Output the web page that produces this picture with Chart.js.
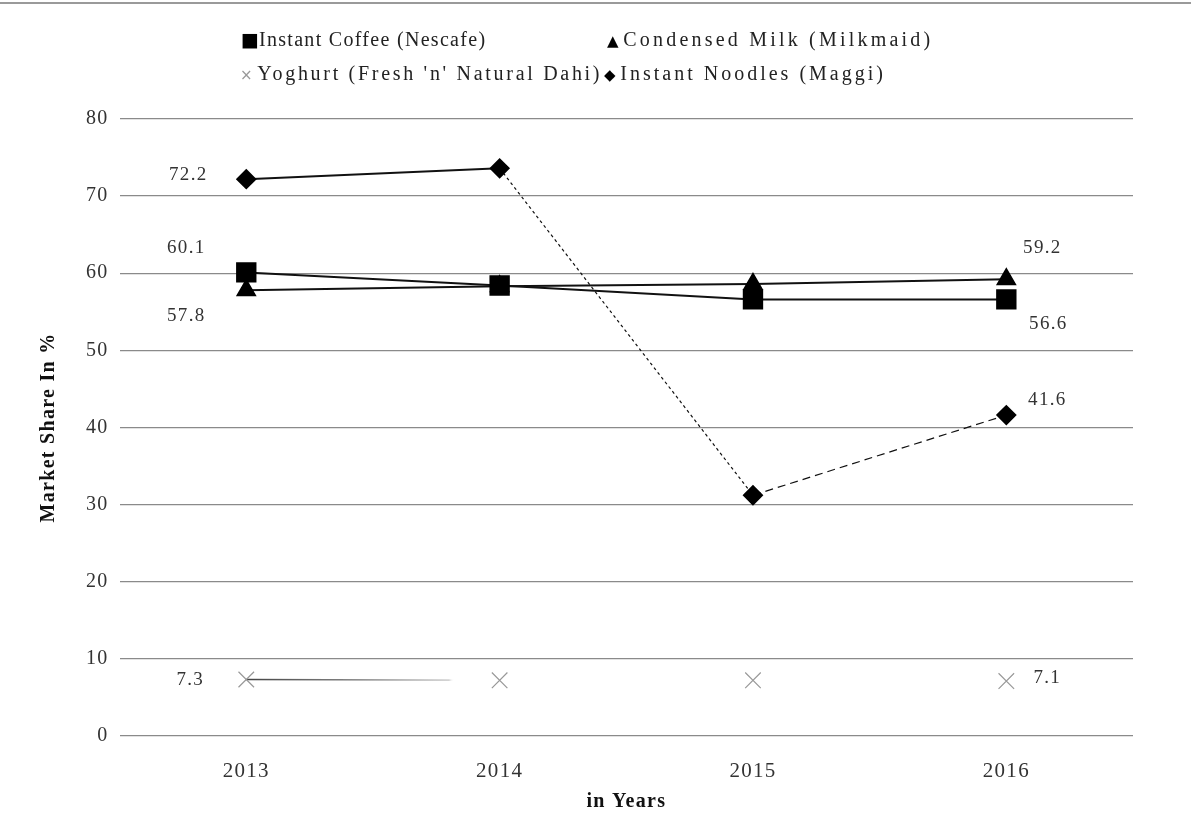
<!DOCTYPE html>
<html>
<head>
<meta charset="utf-8">
<script src="https://cdn.jsdelivr.net/npm/chart.js@4/dist/chart.umd.min.js"></script>
<style>
  html, body { margin: 0; padding: 0; background: #fff; }
  #wrap { position: relative; width: 1191px; height: 835px; overflow: hidden; }
  #topline { position: absolute; left: 0; top: 2px; width: 1191px; height: 2px; background: #9a9a9a; }
  #legend { position: absolute; left: 0; top: 0; width: 1191px; height: 100px;
    font-family: "Liberation Serif", "DejaVu Serif", serif; font-size: 20px; color: #222; }
  #legend span { position: absolute; white-space: nowrap; }
  canvas { position: absolute; left: 0; top: 0; }
</style>
</head>
<body>
<div id="wrap">
  <div id="topline"></div>
  <canvas id="chart" width="1191" height="835"></canvas>
  <div id="legend"></div>
</div>
<script>
const years = ["2013", "2014", "2015", "2016"];

const seriesNames = [
  "Instant Coffee (Nescafe)",
  "Condensed Milk (Milkmaid)",
  "Yoghurt (Fresh 'n' Natural Dahi)",
  "Instant Noodles (Maggi)",
];

const coffee = [60.1, 58.4, 56.6, 56.6];
const milk = [57.8, 58.3, 58.6, 59.2];
const yoghurt = [7.3, 7.2, 7.2, 7.1];
const noodles = [72.2, 73.6, 31.2, 41.6];

const yTicks = [0, 10, 20, 30, 40, 50, 60, 70, 80];

// legend markers, one per series
const legendMarks = ["■", "▲ ", "× ", "◆ "];
const legendSpots = [
  { left: 241, top: 28, ls: 1.3 },
  { left: 607, top: 28, ls: 3.2 },
  { left: 240, top: 62, ls: 2.7 },
  { left: 604, top: 62, ls: 3.0 },
];

const legend = document.getElementById("legend");
seriesNames.forEach((name, i) => {
  const s = document.createElement("span");
  s.style.left = legendSpots[i].left + "px";
  s.style.top = legendSpots[i].top + "px";
  s.style.letterSpacing = legendSpots[i].ls + "px";
  const m = document.createElement("b");
  m.textContent = legendMarks[i];
  m.style.fontWeight = "normal";
  m.style.letterSpacing = "0px";
  m.style.fontSize = i === 0 ? "19px" : "15px";
  m.style.color = i === 2 ? "#999" : "#000";
  m.style.fontFamily = "DejaVu Sans";
  s.appendChild(m);
  s.appendChild(document.createTextNode(name));
  legend.appendChild(s);
});

// value labels next to some points: [dataset, index, dx, dy]
const valueLabels = [
  [3, 0, -58, -4],
  [0, 0, -60, -24],
  [1, 0, -60, 26],
  [1, 3, 36, -31],
  [0, 3, 42, 25],
  [3, 3, 41, -15],
  [2, 0, -56, 0],
  [2, 3, 41, -3],
];

const serif = "'Liberation Serif', 'DejaVu Serif', serif";

// the source picture uses wide-set type
const spacing = {
  id: "spacing",
  beforeLayout(chart) { chart.ctx.letterSpacing = "1.3px"; },
  beforeDraw(chart) { chart.ctx.letterSpacing = "1.3px"; },
};

const labelPlugin = {
  id: "valueLabels",
  afterDatasetsDraw(chart) {
    const ctx = chart.ctx;
    ctx.save();
    ctx.font = "19px " + serif;
    ctx.fillStyle = "#333";
    ctx.textAlign = "center";
    ctx.textBaseline = "middle";
    valueLabels.forEach(([d, i, dx, dy]) => {
      const pt = chart.getDatasetMeta(d).data[i];
      const v = chart.data.datasets[d].data[i];
      ctx.fillText(v.toFixed(1), pt.x + dx, pt.y + dy);
    });
    ctx.restore();
  },
};

// yoghurt: only a short fading stroke after the first point
const fadeStroke = (c) => {
  if (c.p0DataIndex !== 0) return "rgba(0,0,0,0)";
  const g = c.chart.ctx.createLinearGradient(c.p0.x, 0, c.p1.x, 0);
  g.addColorStop(0, "#444");
  g.addColorStop(0.45, "#888");
  g.addColorStop(0.8, "#ccc");
  g.addColorStop(0.82, "rgba(255,255,255,0)");
  g.addColorStop(1, "rgba(255,255,255,0)");
  return g;
};

new Chart(document.getElementById("chart"), {
  type: "line",
  data: {
    labels: years,
    datasets: [
      {
        label: seriesNames[0],
        data: coffee,
        borderColor: "#111",
        borderWidth: 2,
        pointStyle: "rect",
        pointRadius: 13,
        pointBackgroundColor: "#000",
        pointBorderColor: "#000",
      },
      {
        label: seriesNames[1],
        data: milk,
        borderColor: "#111",
        borderWidth: 2,
        pointStyle: "triangle",
        pointRadius: 10,
        pointBackgroundColor: "#000",
        pointBorderColor: "#000",
      },
      {
        label: seriesNames[2],
        data: yoghurt,
        borderColor: "#777",
        borderWidth: 1.5,
        pointStyle: "crossRot",
        pointRadius: 11,
        pointBorderColor: "#999",
        pointBorderWidth: 1.2,
        segment: { borderColor: fadeStroke },
      },
      {
        label: seriesNames[3],
        data: noodles,
        borderColor: "#111",
        borderWidth: 2,
        pointStyle: "rectRot",
        pointRadius: 9,
        pointBackgroundColor: "#000",
        pointBorderColor: "#000",
        segment: {
          borderDash: (c) => (c.p0DataIndex === 1 ? [3, 3] : c.p0DataIndex === 2 ? [8, 5] : undefined),
          borderWidth: (c) => (c.p0DataIndex === 0 ? 2 : 1.2),
        },
      },
    ],
  },
  options: {
    responsive: false,
    animation: false,
    layout: { padding: { top: 119, right: 58, bottom: 21, left: 37 } },
    plugins: {
      legend: { display: false },
      tooltip: { enabled: false },
    },
    scales: {
      x: {
        offset: true,
        grid: { display: false },
        border: { display: false },
        ticks: { color: "#333", font: { family: serif, size: 21 }, padding: 15 },
        title: {
          display: true,
          text: "in Years",
          color: "#111",
          font: { family: serif, size: 20, weight: "bold" },
          padding: { top: -9, bottom: 0 },
        },
      },
      y: {
        min: 0,
        max: 80,
        afterBuildTicks: (axis) => {
          axis.ticks = yTicks.map((v) => ({ value: v }));
        },
        grid: { color: "#8a8a8a", lineWidth: 1.3, drawTicks: false },
        border: { display: false },
        ticks: { color: "#333", font: { family: serif, size: 20 }, padding: 11 },
        title: {
          display: true,
          text: "Market Share In %",
          color: "#111",
          font: { family: serif, size: 20, weight: "bold" },
          padding: { top: 0, bottom: 14 },
        },
      },
    },
  },
  plugins: [spacing, labelPlugin],
});
</script>
</body>
</html>
